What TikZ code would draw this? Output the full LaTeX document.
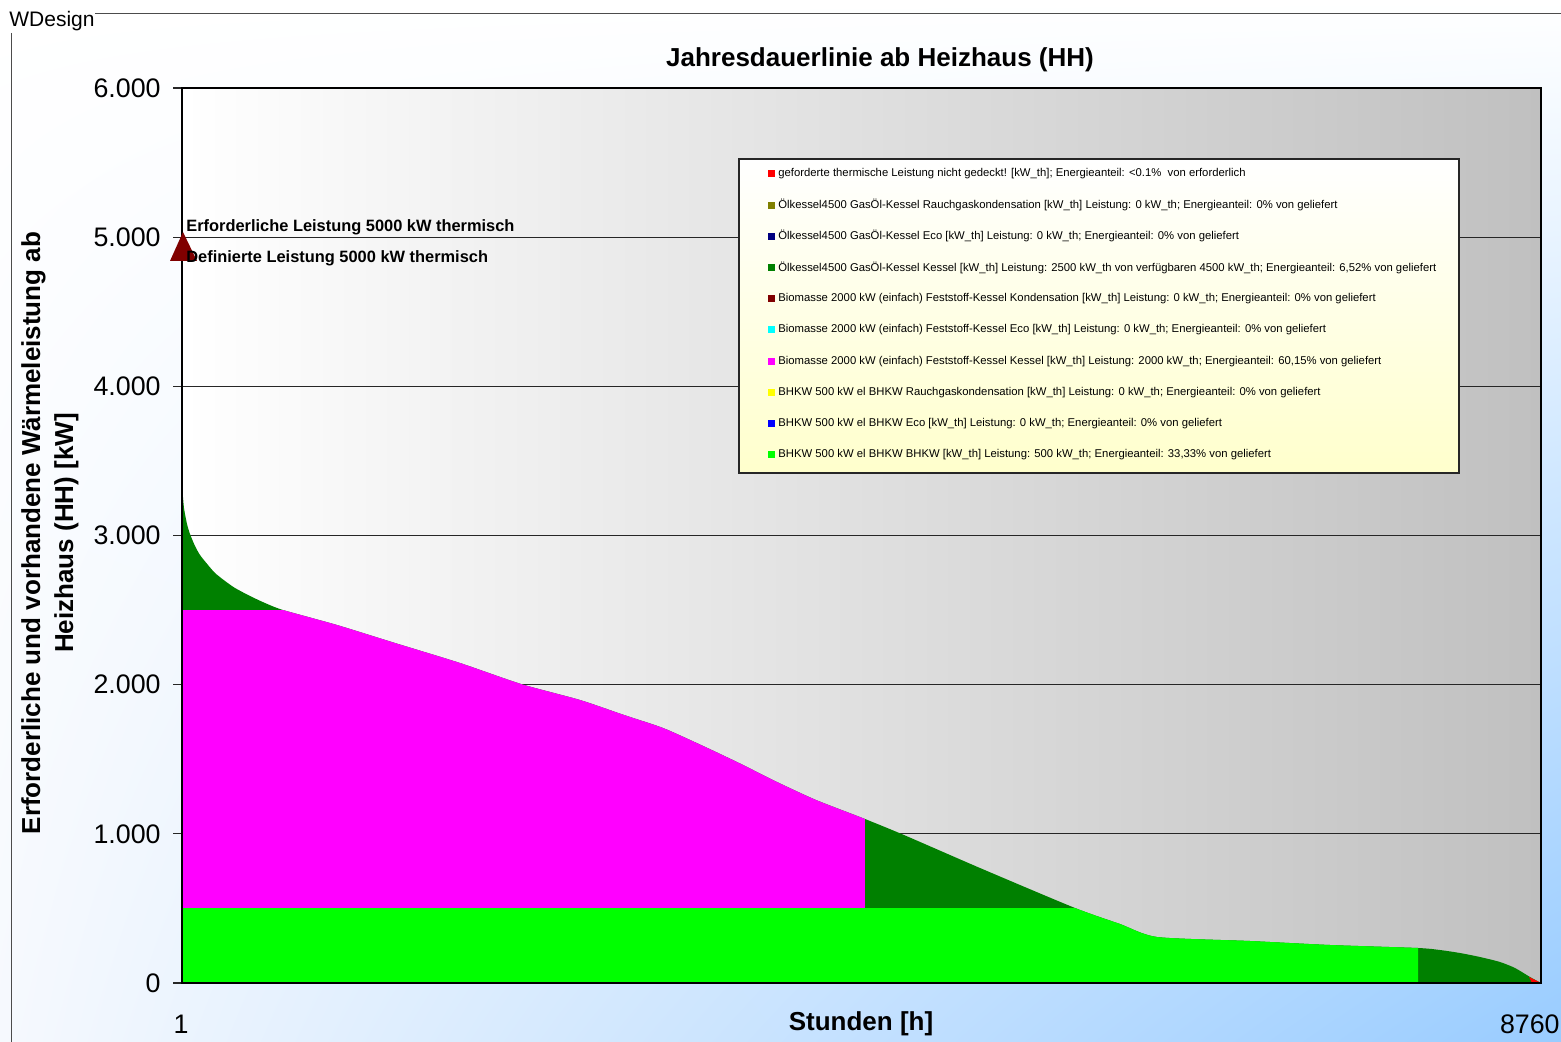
\documentclass[tikz,border=0pt]{standalone}
\usepackage{fontspec}
\setmainfont{Liberation Sans}
\usetikzlibrary{shadings}
\definecolor{wdGruen}{RGB}{0,128,0}
\definecolor{wdLime}{RGB}{0,255,0}
\definecolor{wdMagenta}{RGB}{255,0,255}
\definecolor{wdRot}{RGB}{255,0,0}
\definecolor{wdOliv}{RGB}{128,128,0}
\definecolor{wdNavy}{RGB}{0,0,128}
\definecolor{wdBraun}{RGB}{128,0,0}
\definecolor{wdCyan}{RGB}{0,255,255}
\definecolor{wdGelb}{RGB}{255,255,0}
\definecolor{wdBlau}{RGB}{0,0,255}
\definecolor{wdHimmel}{RGB}{153,204,255}
\definecolor{wdGrau}{RGB}{192,192,192}
\definecolor{wdCreme}{RGB}{255,255,204}
\definecolor{wdWeiss}{RGB}{246,249,254}

\begin{document}
\begin{tikzpicture}[x=0.5pt,y=-0.5pt,
  ticklab/.style={anchor=east,font=\fontsize{13.4}{15}\selectfont,inner sep=0pt},
  achstitel/.style={font=\bfseries\fontsize{13}{16.5}\selectfont},
  anmerkung/.style={anchor=west,font=\bfseries\fontsize{8.2}{10}\selectfont,inner sep=0pt},
  legtext/.style={anchor=west,font=\fontsize{5.65}{6.5}\selectfont,inner sep=0pt}]
\useasboundingbox (0,0) rectangle (1561,1042);
\shade[upper left=white,upper right=white,lower left=wdWeiss,lower right=wdHimmel] (0,0) rectangle (1561,1042);
\draw[black!70] (95,13) -- (1561,13);
\draw[black!70] (11,33) -- (11,1042);
\node[anchor=west,font=\fontsize{10.5}{12}\selectfont,inner sep=0pt] (wd) at (9,21) {WDesign};
\node[achstitel] (titel) at (880,60) {Jahresdauerlinie ab Heizhaus (HH)};
% Zeichenflaeche
\coordinate (PA) at (182,88); \coordinate (PB) at (1541,983);
\shade[left color=white,right color=wdGrau] (PA) rectangle (PB);
\foreach \k/\lab in {0/0,1/1.000,2/2.000,3/3.000,4/4.000,5/5.000,6/6.000}{
  \pgfmathsetmacro{\yk}{983-149.1667*\k}
  \draw[black!85,line width=0.6pt] (173,\yk) -- (1541,\yk);
  \node[ticklab] (t\k) at (161,\yk) {\lab};
}
% Jahresdauerlinie
\begin{scope}
\clip plot[smooth,tension=0.4] coordinates {(182,485) (184,508) (187,524) (190,534) (195,546) (200,555) (208,565) (215,573) (225,581) (235,588) (250,596) (265,603) (283,610) (337,625) (395,643) (460,663) (521,684) (580,700) (624,715) (663,728) (701,745) (739,763) (777,782) (816,800) (865,819) (904,835) (980,868) (1075,908) (1120,924) (1157,937) (1250,941) (1330,945) (1418,948) (1440,950) (1460,953) (1480,957) (1500,962) (1515,968) (1530,977) (1541,983)}
  -- (PB) -- (182,983) -- cycle;
\fill[wdGruen] (PA) rectangle (PB);
\fill[wdMagenta] (182,610) rectangle (865,908);
\fill[wdLime] (182,908) -- (1075,908) -- (1075,870) -- (1418,870) -- (1418,983) -- (182,983) -- cycle;
\end{scope}
\fill[wdRot] (1529,977) -- (1541,983) -- (1532,983) -- cycle;
\draw[black,line width=0.7pt] (PA) rectangle (PB);
\fill[wdBraun] (170,261) -- (183,232) -- (197,261) -- cycle;
\node[anchor=north,font=\fontsize{13.4}{15}\selectfont] (xa) at (181,1008) {1};
\node[achstitel] (xlab) at (861,1024) {Stunden [h]};
\node[anchor=east,font=\fontsize{13.4}{15}\selectfont,inner sep=0pt] (xe) at (1560,1024) {8760};
\node[achstitel,rotate=90,align=center] (ylab) at (50,533) {Erforderliche und vorhandene Wärmeleistung ab\\Heizhaus (HH) [kW]};
\node[anmerkung] (erf) at (186,227) {Erforderliche Leistung 5000 kW thermisch};
\node[anmerkung] (def) at (186,258) {Definierte Leistung 5000 kW thermisch};
% Legende
\shade[top color=white,bottom color=wdCreme] (739,159) rectangle (1459,473);
\draw[black!85,line width=0.6pt] (739,159) rectangle (1459,473);
\foreach \farbe/\txt [count=\i from 0] in {
  wdRot/{geforderte thermische Leistung nicht gedeckt! [kW\_th]; Energieanteil: <0.1\%\ \ von erforderlich},
  wdOliv/{Ölkessel4500 GasÖl-Kessel Rauchgaskondensation [kW\_th] Leistung: 0 kW\_th; Energieanteil: 0\% von geliefert},
  wdNavy/{Ölkessel4500 GasÖl-Kessel Eco [kW\_th] Leistung: 0 kW\_th; Energieanteil: 0\% von geliefert},
  wdGruen/{Ölkessel4500 GasÖl-Kessel Kessel [kW\_th] Leistung: 2500 kW\_th von verfügbaren 4500 kW\_th; Energieanteil: 6,52\% von geliefert},
  wdBraun/{Biomasse 2000 kW (einfach) Feststoff-Kessel Kondensation [kW\_th] Leistung: 0 kW\_th; Energieanteil: 0\% von geliefert},
  wdCyan/{Biomasse 2000 kW (einfach) Feststoff-Kessel Eco [kW\_th] Leistung: 0 kW\_th; Energieanteil: 0\% von geliefert},
  wdMagenta/{Biomasse 2000 kW (einfach) Feststoff-Kessel Kessel [kW\_th] Leistung: 2000 kW\_th; Energieanteil: 60,15\% von geliefert},
  wdGelb/{BHKW 500 kW el BHKW Rauchgaskondensation [kW\_th] Leistung: 0 kW\_th; Energieanteil: 0\% von geliefert},
  wdBlau/{BHKW 500 kW el BHKW Eco [kW\_th] Leistung: 0 kW\_th; Energieanteil: 0\% von geliefert},
  wdLime/{BHKW 500 kW el BHKW BHKW [kW\_th] Leistung: 500 kW\_th; Energieanteil: 33,33\% von geliefert}}{
  \pgfmathsetmacro{\yl}{174+31.2*\i}
  \fill[\farbe] (768,\yl-3.5) rectangle (775,\yl+3.5);
  \node[legtext] (leg\i) at (778,\yl) {\txt};
}
\end{tikzpicture}
\end{document}
